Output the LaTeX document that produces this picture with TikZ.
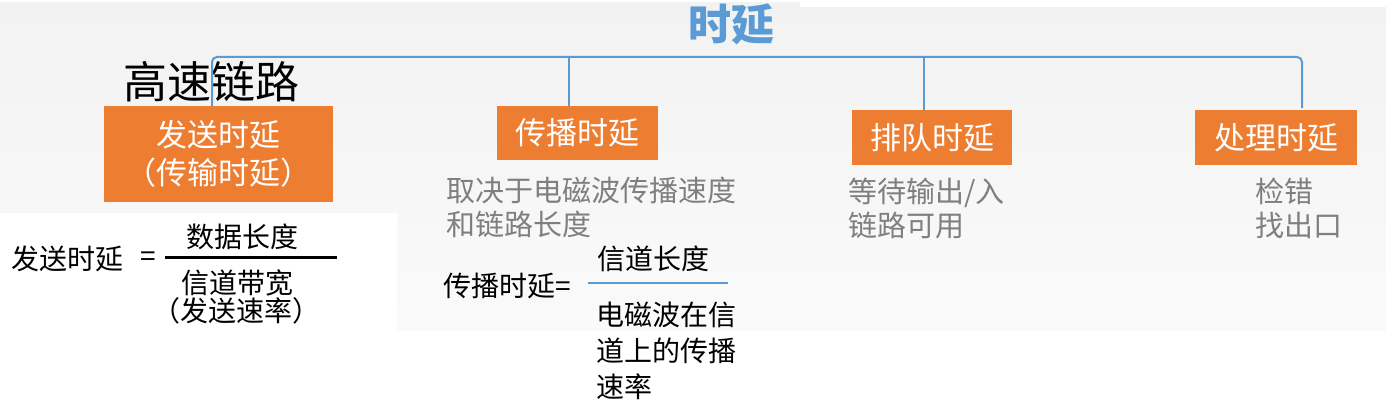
\documentclass[tikz,border=0pt]{standalone}
\usepackage{fontspec}
\setmainfont{Noto Sans CJK SC}
\definecolor{orng}{HTML}{ED7D31}
\definecolor{tblue}{HTML}{5B9BD5}
\definecolor{gtext}{HTML}{7F7F7F}
\definecolor{bgtop}{HTML}{F2F2F2}
\definecolor{bgbot}{HTML}{FAFAFA}
\newcommand{\fs}[1]{\fontsize{#1}{#1}\selectfont}
\tikzset{
  tree/.style={draw=tblue, line width=2pt, rounded corners=5pt},
  obox/.style={fill=orng, text=white, inner sep=0pt, align=center, font=\fs{31}},
  note/.style={text=gtext, inner sep=0pt, align=left, anchor=west, font={\fontsize{29}{34}\selectfont}},
  frm/.style={text=black, inner sep=0pt, font=\fs{28}},
  frm2/.style={text=black, inner sep=0pt, font=\fs{28}},
}
\begin{document}
\begin{tikzpicture}[x=1pt,y=-1pt]
\useasboundingbox (0,0) rectangle (1386,412);
% background
\fill[white] (0,0) rectangle (1386,412);
\shade[top color=bgtop, bottom color=bgbot] (0,3) rectangle (1386,330);
\fill[white] (800,0) rectangle (1386,7);
\fill[white] (0,213) rectangle (397,333);

% title and label
\node[text=tblue, font=\fs{43}\bfseries, inner sep=0pt] (title) at (731,24) {时延};
\node[text=black, font=\fs{44}, inner sep=0pt] (link) at (211,82) {高速链路};

% boxes
\node[obox, minimum width=229pt, minimum height=96pt, font={\fontsize{31}{38.5}\selectfont}] (b1) at (218.5,154) {发送时延\\（传输时延）};
\node[obox, minimum width=161pt, minimum height=54pt] (b2) at (577.5,133) {传播时延};
\node[obox, minimum width=160pt, minimum height=55pt] (b3) at (932,137.5) {排队时延};
\node[obox, minimum width=162pt, minimum height=55pt] (b4) at (1276,137.5) {处理时延};

% tree
\coordinate (l1) at (212,106);
\coordinate (l2) at (569,106);
\coordinate (l3) at (924,110);
\coordinate (l4) at (1302,108);
\coordinate (top) at (600,57);
\draw[tree] (l1) |- (top) -| (l4);
\draw[tree, rounded corners=0pt] (l2) -- (l2 |- top);
\draw[tree, rounded corners=0pt] (l3) -- (l3 |- top);

% notes
\node[note] (n2) at (446,207) {取决于电磁波传播速度\\和链路长度};
\node[note] (n3) at (848,208) {等待输出/入\\链路可用};
\node[note] (n4) at (1255,208) {检错\\找出口};

% formula 1
\node[frm, anchor=west] (f1l) at (11,259) {发送时延};
\node[frm] (f1eq) at (148,259) {=};
\coordinate (f1a) at (165,257);
\coordinate (f1b) at (337,257);
\draw[black, line width=3pt] (f1a) -- (f1b);
\node[frm] (f1n) at (242,237) {数据长度};
\node[frm] (f1d1) at (237,283) {信道带宽};
\node[frm] (f1d2) at (236,311) {（发送速率）};

% formula 2
\node[frm2, anchor=west] (f2l) at (443,286) {传播时延=};
\coordinate (f2a) at (588,283);
\coordinate (f2b) at (728,283);
\draw[tblue, line width=2pt] (f2a) -- (f2b);
\node[frm2, anchor=west] (f2n) at (597,259) {信道长度};
\node[frm2, anchor=north west, align=left, font={\fontsize{28}{36}\selectfont}] (f2d) at (596,302) {电磁波在信\\道上的传播\\速率};
\end{tikzpicture}
\end{document}
